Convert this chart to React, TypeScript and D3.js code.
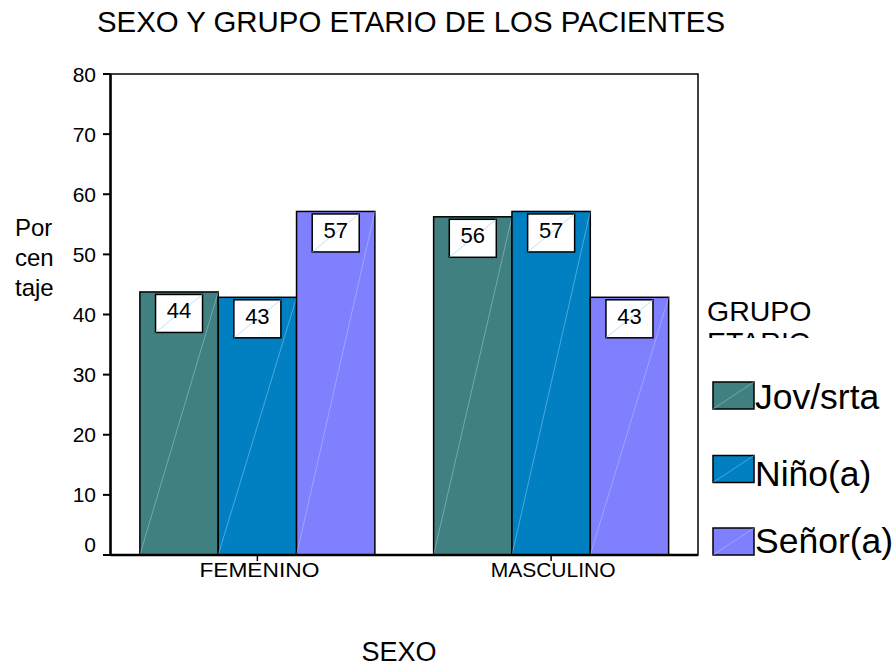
import React from "react";
import * as d3 from "d3";

const categories = ["FEMENINO", "MASCULINO"];
const seriesNames = ["Jov/srta", "Niño(a)", "Señor(a)"];
const seriesColors = ["#408080", "#0080c0", "#8080ff"];
const jovValues = [43.75, 56.25];
const ninoValues = [42.86, 57.14];
const senorValues = [57.14, 42.86];
const yTicks = [0, 10, 20, 30, 40, 50, 60, 70, 80];
const yLabelLines = ["Por", "cen", "taje"];
const legendTitleLines = ["GRUPO", "ETARIO"];
const titleText = "SEXO Y GRUPO ETARIO DE LOS PACIENTES";
const xTitle = "SEXO";

const W = 896;
const H = 666;
const FONT = "'Liberation Sans', Arial, Helvetica, sans-serif";

export default function App() {
  const left = 110.5;
  const right = 698;
  const top = 74;
  const bottom = 555;
  const series = [jovValues, ninoValues, senorValues];

  const y = d3.scaleLinear().domain([0, 80]).range([bottom, top]);
  const x0 = d3.scaleBand<string>().domain(categories).range([left, right]).padding(0);
  const bw = x0.bandwidth();
  const x1 = d3
    .scaleBand<string>()
    .domain(seriesNames)
    .range([bw * 0.1, bw * 0.9])
    .padding(0);

  const bars: any[] = [];
  categories.forEach((c, ci) => {
    seriesNames.forEach((s, si) => {
      const v = series[si][ci];
      bars.push({ c, s, si, v, x: (x0(c) as number) + (x1(s) as number), w: x1.bandwidth(), yTop: y(v) });
    });
  });

  const boxW = 47;
  const boxH = 38;
  const legX = 713;
  const legSwY = [382, 455.5, 528];

  return (
    <svg width={W} height={H} style={{ position: "absolute", left: 0, top: 0, background: "#fff" }} fontFamily={FONT}>
      <defs>
        <clipPath id="legclip">
          <rect x={700} y={280} width={196} height={58} />
        </clipPath>
      </defs>
      <rect x={0} y={0} width={W} height={H} fill="#fff" />
      {/* title */}
      <text x={97} y={32} fontSize={29.5} fill="#000" textLength={628} lengthAdjust="spacingAndGlyphs">
        {titleText}
      </text>

      {/* bars */}
      {bars.map((b, i) => (
        <g key={i}>
          <rect x={b.x} y={b.yTop} width={b.w} height={bottom - b.yTop} fill={seriesColors[b.si]} stroke="#000" strokeWidth={1.5} />
          <line x1={b.x} y1={bottom} x2={b.x + b.w} y2={b.yTop} stroke="#b8dcff" strokeWidth={0.7} opacity={0.6} />
        </g>
      ))}
      {/* value label boxes */}
      {bars.map((b, i) => {
        const cx = b.x + b.w / 2;
        const bx = cx - boxW / 2;
        const by = b.yTop + 2.5;
        return (
          <g key={"l" + i}>
            <rect x={bx} y={by} width={boxW} height={boxH} fill="#fff" stroke="#000" strokeWidth={1.5} />
            <line x1={bx} y1={by + boxH} x2={bx + boxW} y2={by} stroke="#a8d0f0" strokeWidth={0.7} />
            <text x={cx} y={by + 24} fontSize={22} textAnchor="middle" fill="#000">
              {Math.round(b.v)}
            </text>
          </g>
        );
      })}

      {/* frame */}
      <rect x={left} y={top} width={right - left} height={bottom - top} fill="none" stroke="#000" strokeWidth={1.5} />
      <line x1={left} y1={bottom} x2={right} y2={bottom} stroke="#000" strokeWidth={2.5} />
      <line x1={left} y1={top} x2={left} y2={bottom} stroke="#000" strokeWidth={2.5} />

      {/* y axis ticks */}
      {yTicks.map((t) => (
        <g key={t}>
          <line x1={103} x2={left} y1={y(t)} y2={y(t)} stroke="#000" strokeWidth={2} />
          <text x={96} y={t === 0 ? y(t) - 3 : y(t) + 7.5} fontSize={21} textAnchor="end" fill="#000">
            {t}
          </text>
        </g>
      ))}

      {/* x ticks */}
      {categories.map((c) => {
        const cx = (x0(c) as number) + bw / 2;
        return (
          <g key={c}>
            <line x1={cx} x2={cx} y1={bottom} y2={bottom + 6} stroke="#000" strokeWidth={1.5} />
            <text x={cx + 2} y={577} fontSize={21} textAnchor="middle" fill="#000" textLength={c === "FEMENINO" ? 120 : 125} lengthAdjust="spacingAndGlyphs">
              {c}
            </text>
          </g>
        );
      })}

      {/* axis titles */}
      {yLabelLines.map((l, i) => (
        <text key={l} x={15} y={236 + i * 30} fontSize={24} fill="#000">
          {l}
        </text>
      ))}
      <text x={399} y={661} fontSize={27} textAnchor="middle" fill="#000">
        {xTitle}
      </text>

      {/* legend */}
      <g clipPath="url(#legclip)">
        {legendTitleLines.map((l, i) => (
          <text key={l} x={707} y={321 + i * 31} fontSize={28.5} fill="#000">
            {l}
          </text>
        ))}
      </g>
      {seriesNames.map((s, i) => (
        <g key={s}>
          <rect x={legX} y={legSwY[i]} width={41} height={27} fill={seriesColors[i]} stroke="#000" strokeWidth={1.5} />
          <line x1={legX} y1={legSwY[i] + 27} x2={legX + 41} y2={legSwY[i]} stroke="#b8dcff" strokeWidth={0.7} opacity={0.6} />
          <text x={755} y={legSwY[i] + 27 + (i === 1 ? 3 : i === 2 ? -2 : 0)} fontSize={35.5} fill="#000">
            {s}
          </text>
        </g>
      ))}
    </svg>
  );
}
